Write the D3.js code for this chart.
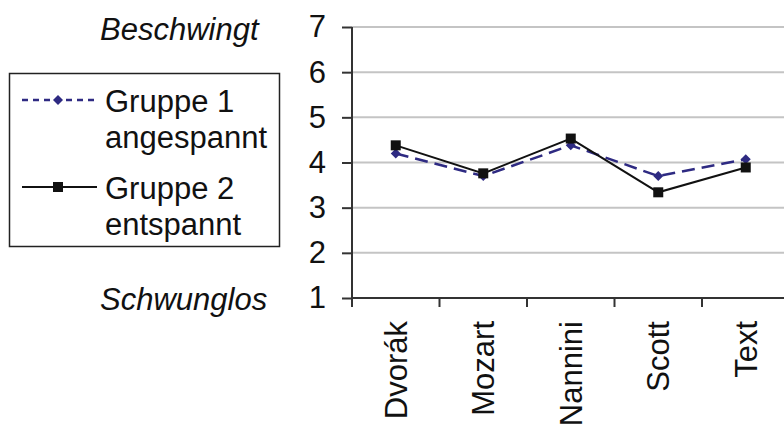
<!DOCTYPE html>
<html>
<head>
<meta charset="utf-8">
<script src="https://cdn.jsdelivr.net/npm/d3@7"></script>
<style>
  body { margin: 0; background: #fff; }
  svg { display: block; }
  text { font-family: "Liberation Sans", Arial, sans-serif; fill: #111; }
</style>
</head>
<body>
<svg id="chart" width="784" height="428"></svg>
<script>
const categories = ['Dvorák', 'Mozart', 'Nannini', 'Scott', 'Text'];
const gruppe1 = [4.2, 3.7, 4.38, 3.7, 4.07];
const gruppe2 = [4.38, 3.76, 4.53, 3.34, 3.89];
const yTicks = [1, 2, 3, 4, 5, 6, 7];
const legendLabels = [['Gruppe 1', 'angespannt'], ['Gruppe 2', 'entspannt']];

const width = 784, height = 428;
const plotLeft = 352, plotRight = 789.5, plotTop = 27, plotBottom = 298;
const fontSize = 31;

const svg = d3.select('#chart');

const x = d3.scaleBand().domain(categories).range([plotLeft, plotRight]);
const y = d3.scaleLinear().domain([1, 7]).range([plotBottom, plotTop]);

// gridlines
svg.append('g')
    .selectAll('line')
    .data(yTicks.slice(1))
    .join('line')
    .attr('x1', plotLeft)
    .attr('x2', width)
    .attr('y1', d => y(d))
    .attr('y2', d => y(d))
    .attr('stroke', '#c4c4c4')
    .attr('stroke-width', 2);

// y axis
const yAxis = svg.append('g')
    .attr('transform', `translate(${plotLeft},0)`)
    .call(d3.axisLeft(y).tickValues(yTicks).tickSize(10).tickPadding(16).tickFormat(d3.format('d')));
yAxis.select('.domain').remove();
yAxis.selectAll('.tick line').attr('stroke', '#333').attr('stroke-width', 2);
yAxis.selectAll('.tick text')
    .attr('font-size', fontSize)
    .attr('font-family', '"Liberation Sans", Arial, sans-serif')
    .attr('fill', '#111');
svg.append('line')
    .attr('x1', plotLeft).attr('x2', plotLeft)
    .attr('y1', plotTop).attr('y2', plotBottom)
    .attr('stroke', '#333').attr('stroke-width', 2);

// x axis
svg.append('line')
    .attr('x1', plotLeft).attr('x2', width)
    .attr('y1', plotBottom).attr('y2', plotBottom)
    .attr('stroke', '#333').attr('stroke-width', 2);
const edges = categories.map(c => x(c));
svg.append('g')
    .selectAll('line')
    .data(edges)
    .join('line')
    .attr('x1', d => d).attr('x2', d => d)
    .attr('y1', plotBottom).attr('y2', plotBottom + 9)
    .attr('stroke', '#333').attr('stroke-width', 2);

svg.append('g')
    .selectAll('text')
    .data(categories)
    .join('text')
    .attr('transform', d => `translate(${x(d) + x.bandwidth() / 2},${plotBottom + 23}) rotate(-90)`)
    .attr('dy', '0.36em')
    .attr('text-anchor', 'end')
    .attr('font-size', fontSize)
    .text(d => d);

// series
const cx = i => x(categories[i]) + x.bandwidth() / 2;
const line = d3.line().x((d, i) => cx(i)).y(d => y(d));

svg.append('path')
    .datum(gruppe1)
    .attr('d', line)
    .attr('fill', 'none')
    .attr('stroke', '#2e2a82')
    .attr('stroke-width', 2.5)
    .attr('stroke-dasharray', '13,7');

svg.append('path')
    .datum(gruppe2)
    .attr('d', line)
    .attr('fill', 'none')
    .attr('stroke', '#111')
    .attr('stroke-width', 2);

const diamond = d3.symbol().type(d3.symbolDiamond2).size(64);

svg.append('g')
    .selectAll('path')
    .data(gruppe1)
    .join('path')
    .attr('transform', (d, i) => `translate(${cx(i)},${y(d)})`)
    .attr('d', diamond)
    .attr('fill', '#2e2a82');

svg.append('g')
    .selectAll('rect')
    .data(gruppe2)
    .join('rect')
    .attr('x', (d, i) => cx(i) - 5)
    .attr('y', d => y(d) - 5)
    .attr('width', 10)
    .attr('height', 10)
    .attr('fill', '#111');

// side labels
svg.append('text')
    .attr('x', 100).attr('y', 40)
    .attr('font-size', fontSize)
    .attr('font-style', 'italic')
    .text('Beschwingt');
svg.append('text')
    .attr('x', 100).attr('y', 310)
    .attr('font-size', fontSize)
    .attr('font-style', 'italic')
    .text('Schwunglos');

// legend
const legend = svg.append('g');
legend.append('rect')
    .attr('x', 9.5).attr('y', 73.5)
    .attr('width', 270).attr('height', 173)
    .attr('fill', 'none')
    .attr('stroke', '#222')
    .attr('stroke-width', 1.5);

const legendY = [100, 187];
legend.append('line')
    .attr('x1', 22).attr('x2', 97)
    .attr('y1', legendY[0]).attr('y2', legendY[0])
    .attr('stroke', '#2e2a82').attr('stroke-width', 2.5)
    .attr('stroke-dasharray', '6,5');
legend.append('path')
    .attr('transform', `translate(58,${legendY[0]})`)
    .attr('d', diamond)
    .attr('fill', '#2e2a82');
legend.append('line')
    .attr('x1', 22).attr('x2', 97)
    .attr('y1', legendY[1]).attr('y2', legendY[1])
    .attr('stroke', '#111').attr('stroke-width', 2);
legend.append('rect')
    .attr('x', 53).attr('y', legendY[1] - 5)
    .attr('width', 10).attr('height', 10)
    .attr('fill', '#111');

legendLabels.forEach((lines, k) => {
    lines.forEach((t, j) => {
        legend.append('text')
            .attr('x', 105)
            .attr('y', legendY[k] + 12 + j * 36)
            .attr('font-size', fontSize)
            .text(t);
    });
});
</script>
</body>
</html>
